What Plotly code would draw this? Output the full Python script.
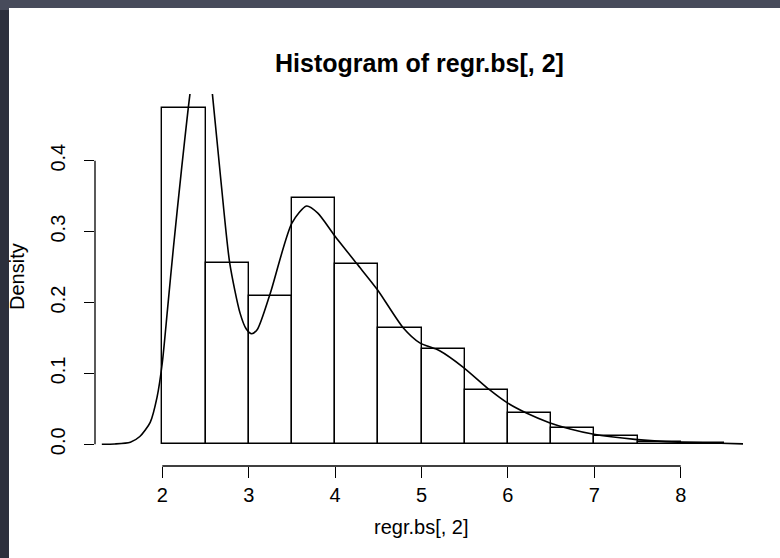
import plotly.graph_objects as go

# ---- data ----
bin_left = [2.0, 2.5, 3.0, 3.5, 4.0, 4.5, 5.0, 5.5, 6.0, 6.5, 7.0, 7.5, 8.0]
bin_width = 0.5
density_bars = [0.474, 0.256, 0.209, 0.347, 0.255, 0.1645, 0.135, 0.0766,
                0.0437, 0.0234, 0.0117, 0.0037, 0.0012]

kde_x = [1.30, 1.45, 1.63, 1.74, 1.86, 1.94, 2.00, 2.06, 2.13, 2.22, 2.32, 2.40,
         2.46, 2.52, 2.58, 2.68, 2.78, 2.90, 2.97, 3.035, 3.10, 3.25, 3.50,
         3.67, 3.80, 3.99, 4.25, 4.49, 4.79, 4.98, 5.21, 5.48, 5.79, 5.99,
         6.22, 6.48, 6.72, 6.98, 7.47, 7.97, 8.47, 8.76]
kde_y = [0.0, 0.0005, 0.003, 0.011, 0.031, 0.067, 0.115, 0.19, 0.279, 0.385, 0.494, 0.56,
         0.58, 0.56, 0.494, 0.37, 0.256, 0.185, 0.163, 0.156, 0.162, 0.213, 0.312,
         0.336, 0.326, 0.295, 0.255, 0.218, 0.164, 0.143, 0.132, 0.109, 0.0766, 0.0587,
         0.0437, 0.0305, 0.0216, 0.0145, 0.007, 0.003, 0.0015, 0.0005]

x_ticks = [2, 3, 4, 5, 6, 7, 8]
x_tick_text = ["2", "3", "4", "5", "6", "7", "8"]
y_ticks = [0.0, 0.1, 0.2, 0.3, 0.4]
y_tick_text = ["0.0", "0.1", "0.2", "0.3", "0.4"]

title_text = "<b>Histogram of regr.bs[, 2]</b>"
x_title = "regr.bs[, 2]"
y_title = "Density"

# ---- figure ----
W, H = 780, 558
L, R, T, B = 95, 37, 94, 92
px_per_x = 86.4
px_per_y = 709.0
x0_px_of_2 = 162.3
y_zero_px = 444.3

x_min = 2 - (x0_px_of_2 - L) / px_per_x
x_max = x_min + (W - L - R) / px_per_x
y_min = -((H - B) - y_zero_px) / px_per_y
y_max = (y_zero_px - T) / px_per_y

pw = W - L - R
ph = H - T - B
def pxx(p):
    return (p - L) / pw
def pxy(p):
    return ((H - B) - p) / ph

centers = [b + bin_width / 2 for b in bin_left]
FONT = "Liberation Sans, Arial, Helvetica, sans-serif"

fig = go.Figure()
fig.add_trace(go.Bar(x=centers, y=density_bars, width=bin_width,
                     marker=dict(color="white", line=dict(color="black", width=1.4)),
                     hoverinfo="skip"))
fig.add_trace(go.Scatter(x=kde_x, y=kde_y, mode="lines",
                         line=dict(color="black", width=1.6, shape="spline", smoothing=0.7),
                         hoverinfo="skip"))

shapes = [
    dict(type="rect", xref="paper", yref="paper", x0=pxx(0), x1=pxx(W), y0=pxy(H), y1=pxy(0),
         fillcolor="#2c2f3c", line=dict(width=0), layer="below"),
    dict(type="rect", xref="paper", yref="paper", x0=pxx(0), x1=pxx(W), y0=pxy(10), y1=pxy(0),
         fillcolor="#474b5b", line=dict(width=0), layer="below"),
    dict(type="rect", xref="paper", yref="paper", x0=pxx(9), x1=pxx(W), y0=pxy(H), y1=pxy(8),
         fillcolor="white", line=dict(width=0), layer="below"),
    dict(type="line", xref="x", yref="paper", x0=min(x_ticks), x1=max(x_ticks), y0=0, y1=0,
         line=dict(color="black", width=1.3)),
    dict(type="line", xref="paper", yref="y", x0=0, x1=0, y0=min(y_ticks), y1=max(y_ticks),
         line=dict(color="black", width=1.3)),
]

annotations = [
    dict(text=title_text, xref="paper", yref="paper", x=pxx(419), y=pxy(63),
         xanchor="center", yanchor="middle", showarrow=False,
         font=dict(family=FONT, size=25, color="black")),
    dict(text=x_title, xref="paper", yref="paper", x=pxx(421), y=pxy(527),
         xanchor="center", yanchor="middle", showarrow=False,
         font=dict(family=FONT, size=20, color="black")),
    dict(text=y_title, xref="paper", yref="paper", x=pxx(17), y=pxy(277),
         xanchor="center", yanchor="middle", showarrow=False, textangle=-90,
         font=dict(family=FONT, size=20, color="black")),
]

fig.update_layout(
    width=W, height=H,
    margin=dict(l=L, r=R, t=T, b=B, pad=0),
    paper_bgcolor="#2c2f3c",
    plot_bgcolor="white",
    showlegend=False,
    bargap=0,
    shapes=shapes,
    annotations=annotations,
    font=dict(family=FONT, size=20, color="black"),
    xaxis=dict(range=[x_min, x_max], tickvals=x_ticks, ticktext=x_tick_text,
               ticks="outside", ticklen=11, tickwidth=1.3, tickcolor="black",
               showline=False, showgrid=False, zeroline=False, fixedrange=True,
               tickfont=dict(family=FONT, size=20, color="black")),
    yaxis=dict(range=[y_min, y_max], tickvals=y_ticks, ticktext=y_tick_text,
               ticks="outside", ticklen=10, tickwidth=1.3, tickcolor="black",
               tickangle=-90, ticklabelstandoff=11,
               showline=False, showgrid=False, zeroline=False, fixedrange=True,
               tickfont=dict(family=FONT, size=20, color="black")),
)

fig.write_html("out.html")
